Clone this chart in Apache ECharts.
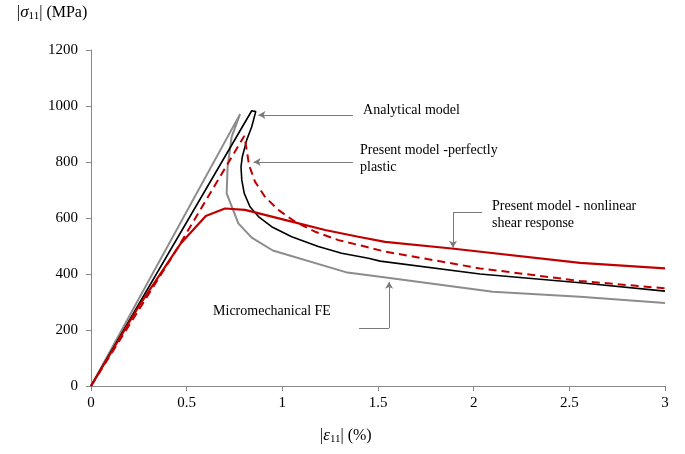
<!DOCTYPE html>
<html>
<head>
<meta charset="utf-8">
<script src="https://cdn.jsdelivr.net/npm/echarts@6/dist/echarts.min.js"></script>
<style>
  html, body { margin: 0; padding: 0; background: #fff; }
  #chart { width: 685px; height: 454px; }
</style>
</head>
<body>
<div id="chart"></div>
<script>
// strain (%) / stress (MPa) pairs
const feStrain = [0, 0.779, 0.735, 0.714, 0.709, 0.77, 0.84, 0.95, 1.34, 1.511, 2.1, 2.556, 3];
const feStress = [0, 971, 890, 783, 688, 581, 530, 484, 405, 390, 337, 319, 296];

const analyticalStrain = [0, 0.84, 0.861, 0.84, 0.814, 0.791, 0.784, 0.788, 0.801, 0.831, 0.875, 0.944, 1.049, 1.188, 1.31, 1.45, 1.511, 2.033, 2.556, 3];
const analyticalStress = [0, 983, 980, 926, 879, 819, 783, 736, 688, 640, 605, 569, 533, 498, 474, 456, 446, 400, 369, 339];

const plasticStrain = [0, 0.45, 0.801, 0.814, 0.826, 0.857, 0.909, 0.979, 1.066, 1.171, 1.293, 1.432, 1.537, 2.033, 2.556, 3];
const plasticStress = [0, 490, 893, 843, 789, 730, 676, 629, 587, 551, 521, 498, 480, 420, 375, 349];

const nonlinStrain = [0, 0.25, 0.47, 0.6, 0.7, 0.805, 0.909, 1.049, 1.223, 1.397, 1.537, 1.885, 2.556, 3];
const nonlinStress = [0, 285, 510, 607, 634, 629, 611, 587, 557, 533, 515, 491, 440, 420];

const xTicks = [0, 0.5, 1, 1.5, 2, 2.5, 3];
const yTicks = [0, 200, 400, 600, 800, 1000, 1200];

const pairs = (xs, ys) => xs.map((x, i) => [x, ys[i]]);

const serif = 'Liberation Serif';
const leaderColor = '#7a7a7a';

// leader line helper (data coords)
const seg = (a, b, arrow) => [
  { coord: a, symbol: 'none' },
  { coord: b, symbol: arrow ? 'arrow' : 'none' },
];
const leader = (segs) => ({
  silent: true,
  symbolSize: [6, 7],
  lineStyle: { color: leaderColor, width: 1, type: 'solid' },
  itemStyle: { color: '#222' },
  label: { show: false },
  emphasis: { disabled: true },
  data: segs,
});

// annotation texts: [strain, stress] of the left/middle anchor
const notes = [
  { at: [1.422, 986], text: 'Analytical model' },
  { at: [1.406, 810], text: 'Present model -perfectly\nplastic' },
  { at: [2.096, 611], text: 'Present model - nonlinear\nshear response' },
  { at: [0.638, 268], text: 'Micromechanical FE' },
];

const axisTitle = (text) => ({
  text,
  fontFamily: serif,
  fontSize: 16,
  fill: '#000',
  rich: {
    i: { fontFamily: serif, fontSize: 17, fontStyle: 'italic', fill: '#000' },
    s: { fontFamily: serif, fontSize: 11, fill: '#000', padding: [8, 0, 0, 0] },
  },
});

const chart = echarts.init(document.getElementById('chart'));
chart.setOption({
  animation: false,
  backgroundColor: '#fff',
  grid: { left: 91, right: 20, top: 50, bottom: 68 },
  xAxis: {
    type: 'value',
    min: 0,
    max: 3,
    interval: 0.5,
    splitLine: { show: false },
    axisLine: { lineStyle: { color: '#888', width: 1 } },
    axisTick: { show: true, length: 5, lineStyle: { color: '#888' } },
    axisLabel: {
      fontFamily: serif,
      fontSize: 15,
      color: '#000',
      margin: 10,
      formatter: (v) => (xTicks.includes(v) ? String(v) : ''),
    },
  },
  yAxis: {
    type: 'value',
    min: 0,
    max: 1200,
    interval: 200,
    splitLine: { show: false },
    axisLine: { show: true, lineStyle: { color: '#888', width: 1 } },
    axisTick: { show: true, length: 5, lineStyle: { color: '#888' } },
    axisLabel: {
      fontFamily: serif,
      fontSize: 15,
      color: '#000',
      margin: 13,
      formatter: (v) => (yTicks.includes(v) ? String(v) : ''),
    },
  },
  series: [
    {
      name: 'Micromechanical FE',
      type: 'line',
      data: pairs(feStrain, feStress),
      showSymbol: false,
      lineStyle: { color: '#8c8c8c', width: 2 },
      markLine: leader([
        seg([1.401, 207], [1.558, 207], false),
        seg([1.558, 207], [1.558, 372], true),
      ]),
    },
    {
      name: 'Analytical model',
      type: 'line',
      data: pairs(analyticalStrain, analyticalStress),
      showSymbol: false,
      lineStyle: { color: '#000', width: 1.6 },
      markLine: leader([seg([1.369, 968], [0.875, 968], true)]),
    },
    {
      name: 'Present model -perfectly plastic',
      type: 'line',
      data: pairs(plasticStrain, plasticStress),
      showSymbol: false,
      lineStyle: { color: '#c00000', width: 2, type: [8, 5] },
      markLine: leader([seg([1.369, 800], [0.85, 800], true)]),
    },
    {
      name: 'Present model - nonlinear shear response',
      type: 'line',
      data: pairs(nonlinStrain, nonlinStress),
      showSymbol: false,
      lineStyle: { color: '#c00000', width: 2.2 },
      markLine: leader([
        seg([2.044, 621], [1.892, 621], false),
        seg([1.892, 621], [1.892, 494], true),
      ]),
    },
  ],
});

// place text in data space once the grid is laid out
const graphics = notes.map((n) => {
  const [px, py] = chart.convertToPixel({ gridIndex: 0 }, n.at);
  return {
    type: 'text',
    x: px,
    y: py,
    style: {
      text: n.text,
      fontFamily: serif,
      fontSize: 14,
      lineHeight: 17,
      fill: '#000',
      align: 'left',
      verticalAlign: 'middle',
    },
  };
});
graphics.push(
  { type: 'text', x: 17, y: 3, style: axisTitle('|{i|σ}{s|11}| (MPa)') },
  { type: 'text', x: 320, y: 426, style: axisTitle('|{i|ε}{s|11}| (%)') }
);
chart.setOption({ graphic: graphics });
</script>
</body>
</html>
